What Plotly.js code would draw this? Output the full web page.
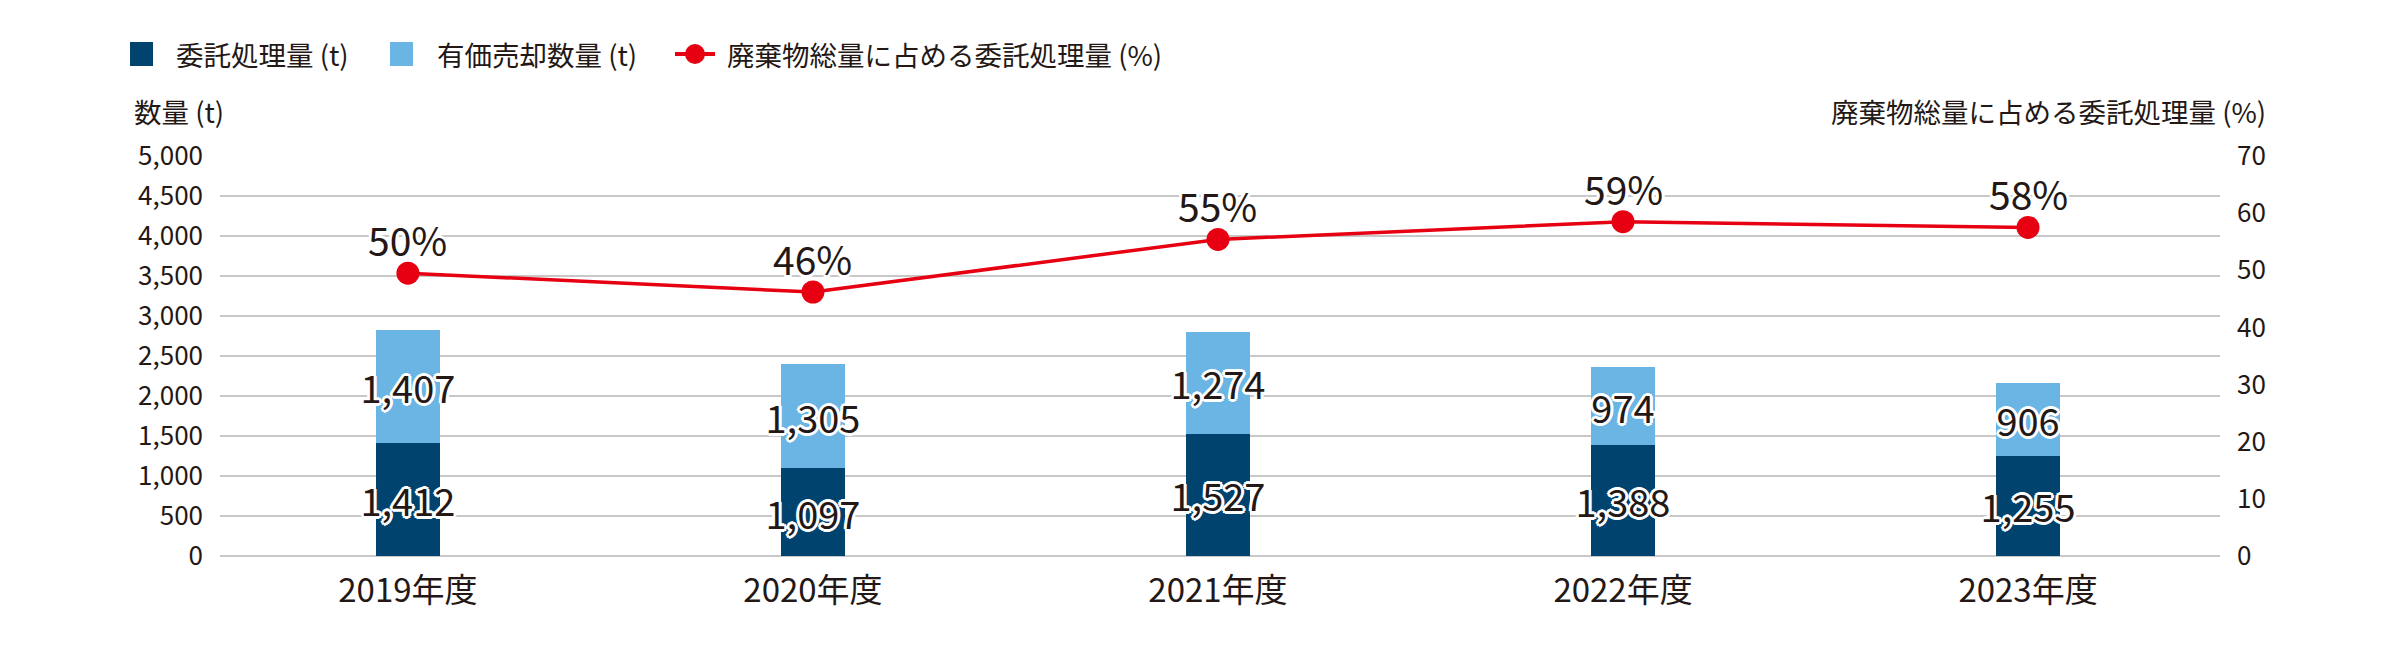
<!DOCTYPE html>
<html>
<head>
<meta charset="utf-8">
<script src="https://cdn.plot.ly/plotly-3.0.1.min.js"></script>
<style>
  html, body { margin: 0; padding: 0; background: #fff; }
  #chart { width: 2400px; height: 652px; }
</style>
</head>
<body>
<div id="chart"></div>
<script>
const years = ['2019年度', '2020年度', '2021年度', '2022年度', '2023年度']
const consigned = [1412, 1097, 1527, 1388, 1255]
const sold = [1407, 1305, 1274, 974, 906]
const ratio = [49.5, 46.2, 55.4, 58.5, 57.5]
const seriesNames = ['委託処理量 (t)', '有価売却数量 (t)', '廃棄物総量に占める委託処理量 (%)']
const leftTitle = '数量 (t)'
const rightTitle = '廃棄物総量に占める委託処理量 (%)'

const navy = '#00436f'
const sky = '#6bb5e5'
const red = '#e60012'
const ink = '#231815'
const grid = '#c8c8c8'
const font = '"Noto Sans CJK JP", "Noto Sans", sans-serif'

const W = 2400
const H = 652
const margin = { l: 220, r: 180, t: 156, b: 96, pad: 0 }

// pixel -> paper helpers, only used for legend / titles
const px = x => (x - margin.l) / (W - margin.l - margin.r)
const py = y => (H - margin.b - y) / (H - margin.t - margin.b)

const halo = [
  '3px 0 0 #fff', '-3px 0 0 #fff', '0 3px 0 #fff', '0 -3px 0 #fff',
  '2px 2px 0 #fff', '-2px 2px 0 #fff', '2px -2px 0 #fff', '-2px -2px 0 #fff',
].join(', ')

const fmt = v => v.toLocaleString('en-US')

function barTrace (vals, color, name) {
  return {
    type: 'bar',
    name,
    x: years,
    y: vals,
    text: vals.map(fmt),
    textposition: 'inside',
    textangle: 0,
    insidetextanchor: 'middle',
    constraintext: 'none',
    insidetextfont: { family: font, size: 38, color: ink, shadow: halo },
    marker: { color, line: { width: 0 } },
    hoverinfo: 'skip',
    showlegend: false,
  }
}

const data = [
  barTrace(consigned, navy, seriesNames[0]),
  barTrace(sold, sky, seriesNames[1]),
  {
    type: 'scatter',
    name: seriesNames[2],
    x: years,
    y: ratio,
    yaxis: 'y2',
    mode: 'lines+markers',
    line: { color: red, width: 3.5 },
    marker: { color: red, size: 23 },
    cliponaxis: false,
    hoverinfo: 'skip',
    showlegend: false,
  },
]

const shapes = []
const annotations = []

// percentage labels sit a fixed distance above each marker
years.forEach((yr, i) => {
  annotations.push({
    x: yr, y: ratio[i], xref: 'x', yref: 'y2',
    yshift: 34, xanchor: 'center', yanchor: 'middle', showarrow: false,
    text: Math.round(ratio[i]) + '%',
    font: { family: font, size: 39, color: ink, shadow: halo },
  })
})

// legend drawn by hand so the swatches can be as big as in the reference
const legendY = 54
const legendItems = [
  { kind: 'box', color: navy, x: 130, textX: 174 },
  { kind: 'box', color: sky, x: 390, textX: 435 },
  { kind: 'line', color: red, x: 675, textX: 725 },
]

legendItems.forEach((it, i) => {
  if (it.kind === 'box') {
    shapes.push({
      type: 'rect', xref: 'paper', yref: 'paper',
      x0: px(it.x), x1: px(it.x + 23), y0: py(legendY + 12), y1: py(legendY - 12),
      fillcolor: it.color, line: { width: 0 },
    })
  } else {
    shapes.push({
      type: 'line', xref: 'paper', yref: 'paper',
      x0: px(it.x), x1: px(it.x + 40), y0: py(legendY), y1: py(legendY),
      line: { color: it.color, width: 4 },
    })
    shapes.push({
      type: 'circle', xref: 'paper', yref: 'paper',
      x0: px(it.x + 10), x1: px(it.x + 30), y0: py(legendY + 10), y1: py(legendY - 10),
      fillcolor: it.color, line: { width: 0 },
    })
  }
  annotations.push({
    xref: 'paper', yref: 'paper', x: px(it.textX), y: py(legendY),
    xanchor: 'left', yanchor: 'middle', showarrow: false,
    text: seriesNames[i], font: { family: font, size: 27.5, color: ink },
  })
})

annotations.push({
  xref: 'paper', yref: 'paper', x: px(132), y: py(111),
  xanchor: 'left', yanchor: 'middle', showarrow: false,
  text: leftTitle, font: { family: font, size: 27.5, color: ink },
})
annotations.push({
  xref: 'paper', yref: 'paper', x: px(2268), y: py(111),
  xanchor: 'right', yanchor: 'middle', showarrow: false,
  text: rightTitle, font: { family: font, size: 27.5, color: ink },
})

const layout = {
  width: W,
  height: H,
  margin,
  paper_bgcolor: '#fff',
  plot_bgcolor: '#fff',
  font: { family: font, color: ink },
  barmode: 'stack',
  bargap: 0.842,
  showlegend: false,
  xaxis: {
    type: 'category',
    range: [-0.464, 4.474],
    showgrid: false,
    zeroline: false,
    showline: false,
    ticks: '',
    tickfont: { family: font, size: 33, color: ink },
    ticklabelstandoff: 12,
    fixedrange: true,
  },
  yaxis: {
    range: [0, 5000],
    dtick: 500,
    tickformat: ',d',
    showgrid: true,
    gridcolor: grid,
    gridwidth: 2,
    zeroline: true,
    zerolinecolor: grid,
    zerolinewidth: 2,
    showline: false,
    ticks: '',
    tickfont: { family: font, size: 26, color: ink },
    ticklabelstandoff: 16,
    fixedrange: true,
  },
  yaxis2: {
    overlaying: 'y',
    side: 'right',
    range: [0, 70],
    dtick: 10,
    showgrid: false,
    zeroline: false,
    showline: false,
    ticks: '',
    tickfont: { family: font, size: 26, color: ink },
    ticklabelstandoff: 16,
    fixedrange: true,
  },
  shapes,
  annotations,
}

Plotly.newPlot('chart', data, layout, { displayModeBar: false, staticPlot: true })
</script>
</body>
</html>
